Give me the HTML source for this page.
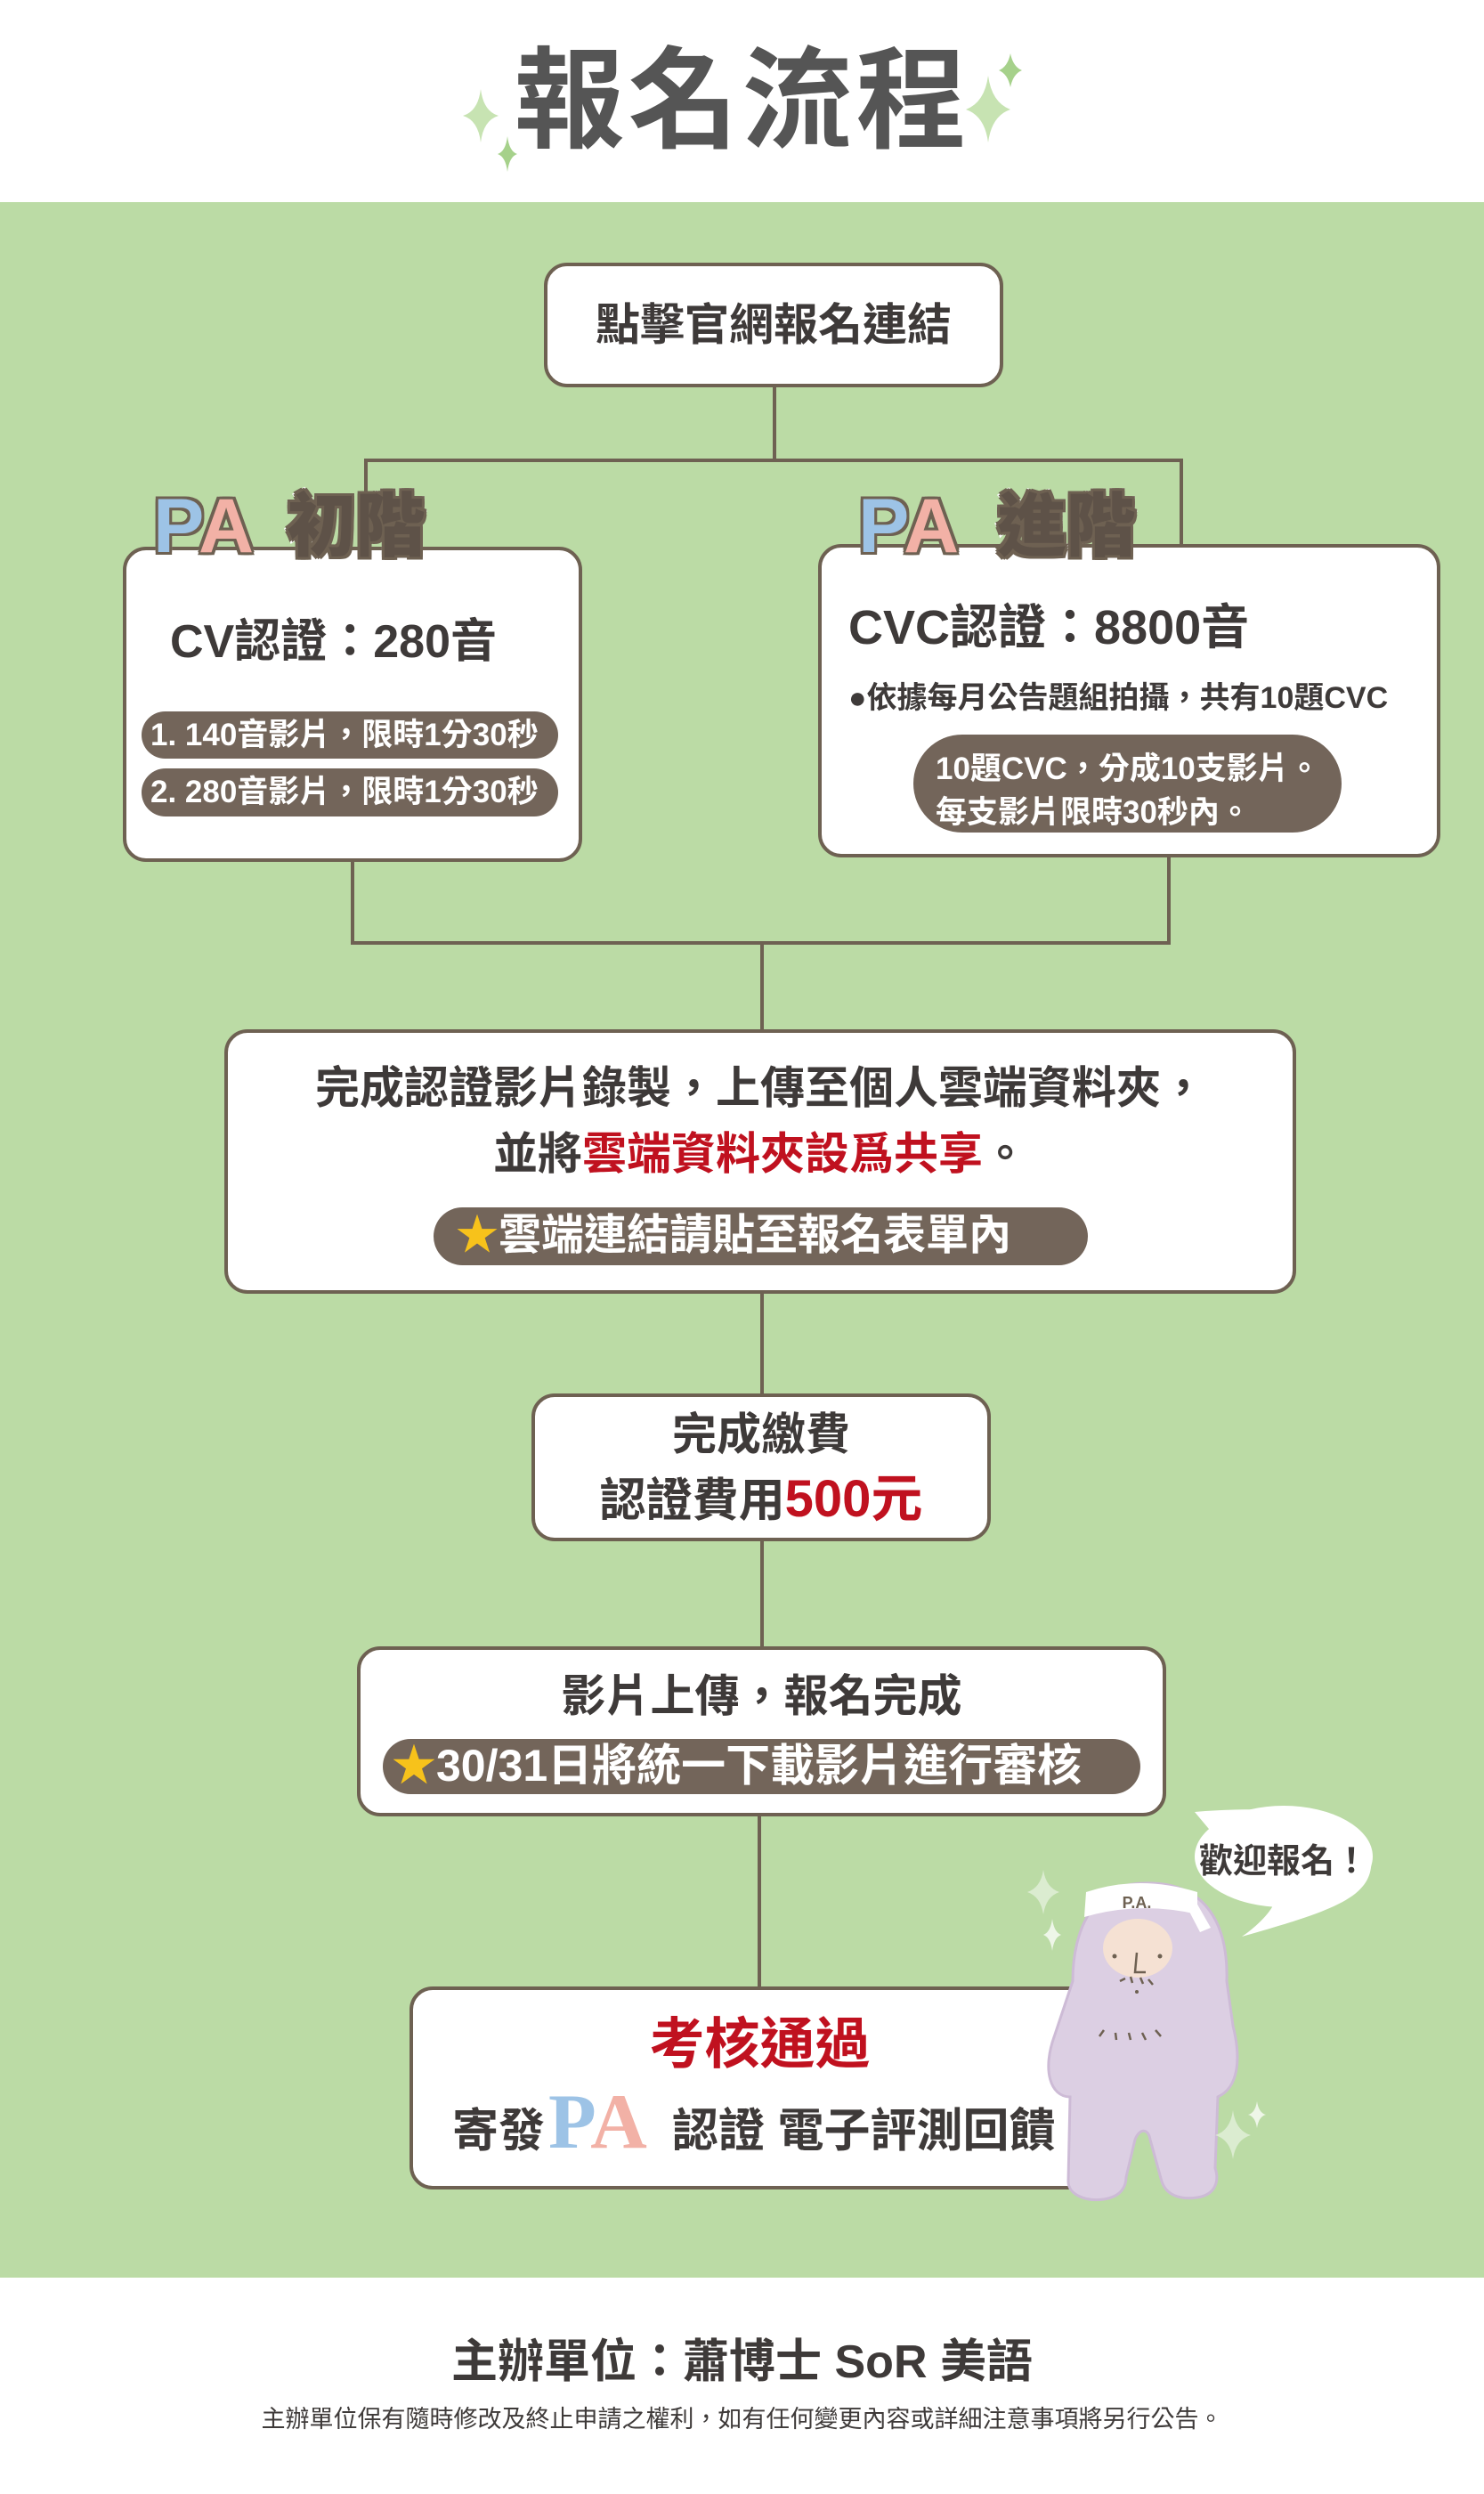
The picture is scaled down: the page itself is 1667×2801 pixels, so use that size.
<!DOCTYPE html>
<html><head><meta charset="utf-8"><style>
*{margin:0;padding:0;box-sizing:border-box}
body{width:1667px;height:2801px;position:relative;background:#fff;font-family:"Liberation Sans","Noto Sans CJK TC",sans-serif;font-weight:bold;color:#3e3a39;overflow:hidden}
.a{position:absolute}
.box{position:absolute;background:#fff;border:4px solid #6e6152;border-radius:26px}
.ln{position:absolute;background:#6e6152}
.t{position:absolute;white-space:nowrap;text-align:center;line-height:1}
.pill{position:absolute;background:#73655a;color:#fff;border-radius:40px;white-space:nowrap;line-height:1}
.pa{font-family:"Liberation Serif","Noto Serif CJK SC",serif;font-weight:bold}
.lab{font-family:"Liberation Sans","Noto Sans CJK TC",sans-serif;font-weight:900;-webkit-text-stroke:6px #fff;paint-order:stroke fill;text-shadow:3px 0 0 #6e6152,-3px 0 0 #6e6152,0 3px 0 #6e6152,0 -3px 0 #6e6152,3px 3px 0 #6e6152,-3px -3px 0 #6e6152,3px -3px 0 #6e6152,-3px 3px 0 #6e6152}
.red{color:#c0111f}
</style></head><body>
<div class="t" style="left:0;width:1667px;top:52px;font-size:124px;color:#555;letter-spacing:4px">報名流程</div>
<svg class="a" style="left:515px;top:95px" width="70" height="110" viewBox="0 0 70 110"><path d="M25 5 Q28 30 45 35 Q28 40 25 65 Q22 40 5 35 Q22 30 25 5Z" fill="#c7e3b2"/><path d="M55 58 Q57 75 66 78 Q57 81 55 98 Q53 81 44 78 Q53 75 55 58Z" fill="#a6d18b"/></svg>
<svg class="a" style="left:1080px;top:55px" width="90" height="120" viewBox="0 0 90 120"><path d="M55 5 Q58 20 68 24 Q58 28 55 43 Q52 28 42 24 Q52 20 55 5Z" fill="#a6d18b"/><path d="M30 30 Q34 60 55 68 Q34 75 30 105 Q26 75 5 68 Q26 60 30 30Z" fill="#c7e3b2"/></svg>

<div class="a" style="left:0;top:227px;width:1667px;height:2331px;background:#bbdba5"></div>

<div class="ln" style="left:868px;top:433px;width:4px;height:86px"></div>
<div class="ln" style="left:409px;top:515px;width:920px;height:4px"></div>
<div class="ln" style="left:409px;top:515px;width:4px;height:100px"></div>
<div class="ln" style="left:1325px;top:515px;width:4px;height:100px"></div>
<div class="ln" style="left:394px;top:965px;width:4px;height:96px"></div>
<div class="ln" style="left:1311px;top:960px;width:4px;height:101px"></div>
<div class="ln" style="left:394px;top:1057px;width:921px;height:4px"></div>
<div class="ln" style="left:854px;top:1057px;width:4px;height:102px"></div>
<div class="ln" style="left:854px;top:1450px;width:4px;height:118px"></div>
<div class="ln" style="left:854px;top:1729px;width:4px;height:122px"></div>
<div class="ln" style="left:851px;top:2038px;width:4px;height:196px"></div>

<div class="box" style="left:611px;top:295px;width:516px;height:140px"></div>
<div class="t" style="left:611px;width:516px;top:340px;font-size:50px">點擊官網報名連結</div>

<div class="box" style="left:138px;top:614px;width:516px;height:354px"></div>
<div class="t lab" style="left:172px;top:548px;font-size:86px"><span style="color:#9dc3e6">P</span><span style="color:#f2b1a6">A</span></div>
<div class="t lab" style="left:322px;top:552px;font-size:78px;color:#5e5248">初階</div>
<div class="t" style="left:191px;top:695px;font-size:52px">CV認證：280音</div>
<div class="pill" style="left:159px;top:799px;width:468px;height:53px;font-size:35px;padding:9px 0 0 10px">1. 140音影片，限時1分30秒</div>
<div class="pill" style="left:159px;top:863px;width:468px;height:54px;font-size:35px;padding:9px 0 0 10px">2. 280音影片，限時1分30秒</div>

<div class="box" style="left:919px;top:611px;width:699px;height:352px"></div>
<div class="t lab" style="left:964px;top:548px;font-size:86px"><span style="color:#9dc3e6">P</span><span style="color:#f2b1a6">A</span></div>
<div class="t lab" style="left:1120px;top:552px;font-size:78px;color:#5e5248">進階</div>
<div class="t" style="left:953px;top:678px;font-size:54px">CVC認證：8800音</div>
<div class="t" style="left:953px;top:767px;font-size:34px">●依據每月公告題組拍攝，共有10題CVC</div>
<div class="pill" style="left:1026px;top:825px;width:481px;height:110px;border-radius:55px;font-size:35px;padding:14px 0 0 25px;line-height:49px;white-space:normal">10題CVC，分成10支影片。<br>每支影片限時30秒內。</div>

<div class="box" style="left:252px;top:1156px;width:1204px;height:297px"></div>
<div class="t" style="left:252px;width:1204px;top:1197px;font-size:50px">完成認證影片錄製，上傳至個人雲端資料夾，</div>
<div class="t" style="left:252px;width:1204px;top:1271px;font-size:50px">並將<span class="red">雲端資料夾設爲共享</span>。</div>
<div class="pill" style="left:487px;top:1356px;width:735px;height:65px;font-size:48px;padding:8px 0 0 25px"><span style="color:#f7c21b">★</span>雲端連結請貼至報名表單內</div>

<div class="box" style="left:597px;top:1565px;width:516px;height:166px"></div>
<div class="t" style="left:597px;width:516px;top:1586px;font-size:50px">完成繳費</div>
<div class="t" style="left:597px;width:516px;top:1655px;font-size:52px">認證費用<span class="red" style="font-size:58px">500元</span></div>

<div class="box" style="left:401px;top:1849px;width:909px;height:191px"></div>
<div class="t" style="left:401px;width:909px;top:1880px;font-size:50px">影片上傳，報名完成</div>
<div class="pill" style="left:430px;top:1953px;width:851px;height:62px;font-size:50px;padding:5px 0 0 10px"><span style="color:#f7c21b">★</span>30/31日將統一下載影片進行審核</div>

<div class="box" style="left:460px;top:2231px;width:800px;height:228px"></div>
<div class="t red" style="left:460px;width:787px;top:2266px;font-size:62px">考核通過</div>
<div class="t" style="left:508px;top:2368px;font-size:52px">寄發</div>
<div class="t pa" style="left:616px;top:2340px;font-size:88px"><span style="color:#9dc3e6">P</span><span style="color:#f2b1a6">A</span></div>
<div class="t" style="left:755px;top:2368px;font-size:52px">認證 電子評測回饋</div>

<svg class="a" style="left:1140px;top:2025px" width="420" height="460" viewBox="0 0 420 460">
<path d="M202 10 C260 5 395 0 400 60 C405 105 360 120 255 150 C270 140 285 125 290 115 Z" fill="#fff"/>
<ellipse cx="302" cy="60" rx="100" ry="57" fill="#fff"/>
<text x="302" y="78" text-anchor="middle" font-family="Liberation Sans,Noto Sans CJK TC,sans-serif" font-weight="bold" font-size="38" fill="#3e3a39">歡迎報名！</text>
<path d="M145 90 C90 90 65 140 65 200 L45 260 C30 300 40 330 62 330 L60 425 C60 440 80 448 100 445 C120 442 125 430 125 420 L135 378 C140 365 150 365 152 378 L165 425 C170 440 185 446 205 443 C225 440 230 425 225 410 L228 330 C250 320 255 290 245 250 L238 200 C240 130 210 88 145 90Z" fill="#dccfe3" stroke="#cdbbd6" stroke-width="3"/>
<ellipse cx="138" cy="163" rx="39" ry="33" fill="#f5e1d3"/>
<path d="M80 100 Q140 80 205 100 L205 125 Q140 110 78 128Z" fill="#fff"/>
<path d="M200 105 L220 140 L208 145 L195 120Z" fill="#fff"/>
<text x="137" y="118" text-anchor="middle" font-family="Liberation Sans,sans-serif" font-size="18" fill="#6e6152">P.A.</text>
<circle cx="112" cy="172" r="2.5" fill="#6e6152"/><circle cx="163" cy="172" r="2.5" fill="#6e6152"/>
<path d="M137 168 L135 190 L147 190" stroke="#6e6152" stroke-width="2.5" fill="none"/>
<path d="M118 200 L124 197 M130 195 L132 202 M141 196 L144 203 M150 198 L155 204 M95 262 L100 255 M113 258 L114 266 M128 258 L130 266 M143 258 L147 266 M158 255 L164 262" stroke="#6e6152" stroke-width="2.5"/>
<circle cx="137" cy="212" r="2" fill="#6e6152"/>
<path d="M32 75 Q35 95 50 100 Q35 105 32 125 Q29 105 14 100 Q29 95 32 75Z" fill="#dbecd0"/>
<path d="M42 130 Q44 145 52 148 Q44 151 42 166 Q40 151 32 148 Q40 145 42 130Z" fill="#eef6e8"/>
<path d="M245 345 Q248 368 265 373 Q248 378 245 400 Q242 378 225 373 Q242 368 245 345Z" fill="#dbecd0"/>
<path d="M272 335 Q274 348 282 350 Q274 352 272 365 Q270 352 262 350 Q270 348 272 335Z" fill="#eef6e8"/>
</svg>

<div class="t" style="left:0;width:1667px;top:2627px;font-size:52px">主辦單位：蕭博士 SoR 美語</div>
<div class="t" style="left:0;width:1667px;top:2704px;font-size:27px;font-weight:normal">主辦單位保有隨時修改及終止申請之權利，如有任何變更內容或詳細注意事項將另行公告。</div>
</body></html>
